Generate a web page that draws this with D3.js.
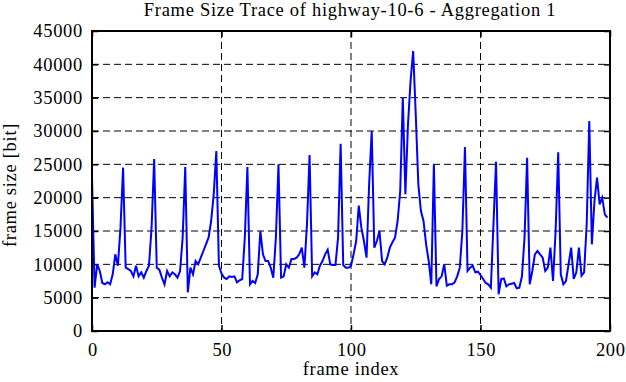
<!DOCTYPE html>
<html><head><meta charset="utf-8">
<script src="https://cdn.jsdelivr.net/npm/d3@7"></script>
<style>
body{margin:0;background:#fff}
svg{display:block}
text{font-family:"Liberation Serif","Times New Roman",Times,serif;fill:#000}
</style>
</head><body>
<svg id="chart" width="626" height="382"></svg>
<script>
// ---- data ----
const frameSizes = [
 23000, 6500,10000, 9000, 7200, 7000, 7300, 7000, 8500,11500,   // 0-9
  9800,15500,24500, 9500, 9300, 9000, 8200, 9800, 8200, 8800,   // 10-19
  8000, 9000, 9800,15500,25800, 9500, 9200, 8000, 7000, 9000,   // 20-29
  8200, 8800, 8500, 8000, 9000,14000,24600, 5800, 9500, 8500,   // 30-39
 10500,10000,11000,12000,13000,14000,16500,20500,27000, 9800,   // 40-49
  8600, 8000, 7800, 8200, 8100, 8200, 7300, 7600, 7800,14000,   // 50-59
 24600, 7000, 7500, 7200, 8500,15000,11500,10500,10500, 9500,   // 60-69
  8000,14000,25000, 8000, 8200,10000, 9500,10800,10800,11000,   // 70-79
 11500,12500, 9500,16000,26400, 8200, 8800, 8500, 9800,10500,   // 80-89
 11500,12200,10000, 9900, 9900,14000,28100, 9900, 9500, 9500,   // 90-99
  9800,11500,13500,18800,15500,13500,11000,22000,30000,12500,   // 100-109
 13500,15000,10500,10000,11000,12500,13300,14000,16500,21000,   // 110-119
 35000,20500,31000,37500,42000,32500,22000,18000,16500,13000,   // 120-129
 10500, 7000,25000, 6700, 7800, 8200,10000, 6800, 7000, 7000,   // 130-139
  7300, 8200, 9500,15000,27600, 9000, 9500, 9800, 8800, 8900,   // 140-149
  8400, 7800, 7200, 7000, 6500,16000,25400, 5500, 7800, 7900,   // 150-159
  6700, 7000, 7100, 7200, 6400, 6500, 8200,14000,26000, 7000,   // 160-169
  9000,11500,12000,11500,11000, 9000, 9500,12500, 7500,15000,   // 170-179
 26800, 8500, 7000, 7500,10000,12500, 7800, 8800,12500, 8300,   // 180-189
  8800,16000,31500,13000,19500,23000,19000,20000,17500,17000    // 190-199
];
const xTicks = [0, 50, 100, 150, 200];
const yTicks = [0, 5000, 10000, 15000, 20000, 25000, 30000, 35000, 40000, 45000];
const chartTitle = "Frame Size Trace of highway-10-6 - Aggregation 1";
const xTitle = "frame index";
const yTitle = "frame size [bit]";

// ---- layout ----
const L = 92, R = 610, T = 31, B = 331;
const FONT = '"Liberation Serif","Times New Roman",serif';
const FS = "18.5px", LS = "0.7px";
const svg = d3.select("#chart");

const x = d3.scaleLinear().domain([0, 200]).range([L, R]);
const y = d3.scaleLinear().domain([0, 45000]).range([B, T]);

// grid
const grid = svg.append("g").attr("stroke", "#000").attr("stroke-width", 1)
  .attr("stroke-dasharray", "7,4").attr("fill", "none");
grid.selectAll("line.gy").data(yTicks.filter(v => v > 0 && v < 45000)).join("line")
  .attr("x1", L).attr("x2", R).attr("y1", d => y(d)).attr("y2", d => y(d));
grid.selectAll("line.gx").data(xTicks.filter(v => v > 0 && v < 200)).join("line")
  .attr("y1", T).attr("y2", B).attr("x1", d => x(d)).attr("x2", d => x(d));

// axes (inner ticks, gnuplot style)
const gL = svg.append("g").attr("transform", `translate(${L},0)`)
  .call(d3.axisLeft(y).tickValues(yTicks).tickSizeInner(-6).tickSizeOuter(0).tickPadding(9).tickFormat(d3.format("d")));
const gR = svg.append("g").attr("transform", `translate(${R},0)`)
  .call(d3.axisRight(y).tickValues(yTicks).tickSizeInner(-6).tickSizeOuter(0).tickFormat(""));
const gB = svg.append("g").attr("transform", `translate(0,${B})`)
  .call(d3.axisBottom(x).tickValues(xTicks).tickSizeInner(-6).tickSizeOuter(0).tickPadding(12).tickFormat(d3.format("d")));
const gT = svg.append("g").attr("transform", `translate(0,${T})`)
  .call(d3.axisTop(x).tickValues(xTicks).tickSizeInner(-6).tickSizeOuter(0).tickFormat(""));
[gL, gR, gB, gT].forEach(g => {
  g.select(".domain").remove();
  g.selectAll(".tick line").attr("stroke", "#000").attr("stroke-width", 1.5);
  g.selectAll("text").style("font-family", FONT).style("font-size", FS)
    .style("letter-spacing", LS).attr("fill", "#000");
});
gB.selectAll("text").attr("dx", "0.35px");

// data line
const line = d3.line().x((d, i) => x(i)).y(d => y(d));
svg.append("path").datum(frameSizes)
  .attr("d", line).attr("fill", "none").attr("stroke", "#0000ff")
  .attr("stroke-width", 2).attr("stroke-linejoin", "miter");

// border
svg.append("rect").attr("x", L).attr("y", T).attr("width", R - L).attr("height", B - T)
  .attr("fill", "none").attr("stroke", "#000").attr("stroke-width", 2);

// titles
function label(t) {
  return t.style("font-family", FONT).style("font-size", FS).style("letter-spacing", LS)
    .attr("text-anchor", "middle");
}
label(svg.append("text").attr("x", 350).attr("y", 15.5)).text(chartTitle);
label(svg.append("text").attr("x", 351).attr("y", 375)).text(xTitle);
label(svg.append("text").attr("transform", "translate(15.5,185) rotate(-90)")).text(yTitle);
</script>
</body></html>
